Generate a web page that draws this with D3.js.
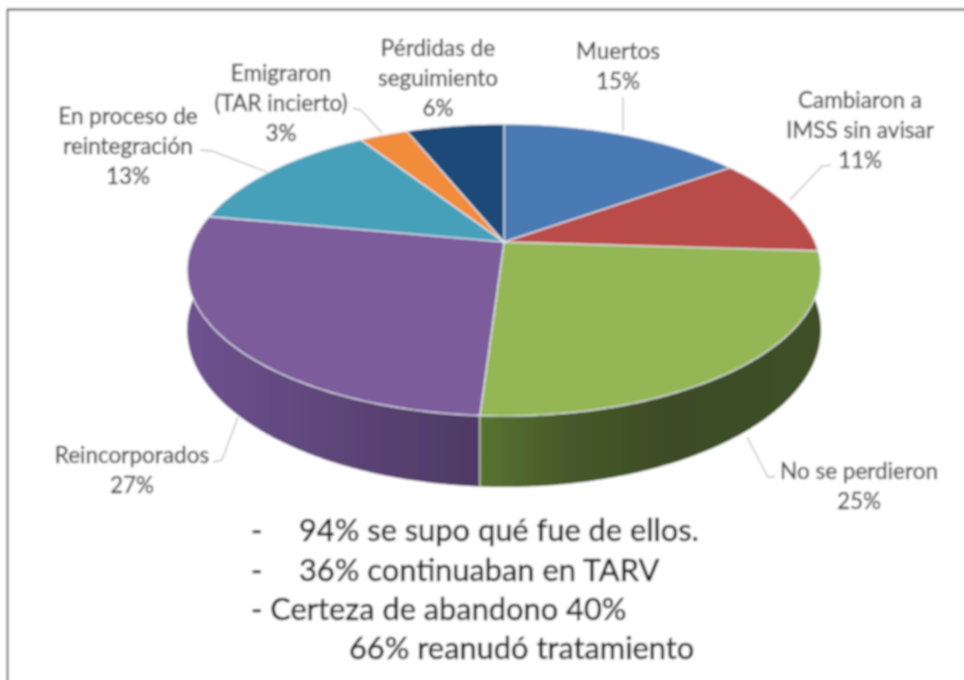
<!DOCTYPE html>
<html>
<head>
<meta charset="utf-8">
<script src="https://d3js.org/d3.v7.min.js"></script>
<style>
html, body { margin: 0; padding: 0; background: #fff; }
svg { display: block; }
text { font-family: Lato, "Open Sans", sans-serif; }
</style>
</head>
<body>
<script>
// datos
var categories = ["Muertos", "Cambiaron a IMSS sin avisar", "No se perdieron", "Reincorporados",
    "En proceso de reintegración", "Emigraron (TAR incierto)", "Pérdidas de seguimiento"];
var values = [15, 11, 25, 27, 13, 3, 6];
var labelLines = [
    ["Muertos"],
    ["Cambiaron a", "IMSS sin avisar"],
    ["No se perdieron"],
    ["Reincorporados"],
    ["En proceso de", "reintegración"],
    ["Emigraron", "(TAR incierto)"],
    ["Pérdidas de", "seguimiento"]
];
var notes = ["-", "94% se supo qué fue de ellos.", "-", "36% continuaban en TARV",
    "- Certeza de abandono 40%", "66% reanudó tratamiento"];

var topColors = ["#4a7ab4", "#b94c48", "#95b655", "#7b5b9b", "#47a0ba", "#f08c3a", "#1d4a78"];

var w = 964, h = 680;

// layout
var cx = 504, cy = 242;   // vertice del pie
var persp = 0.192;        // perspectiva
var radX = 311, radY = 140.6, depth = 57.4;

var labelPos = [
    {x: 618, y: 51},
    {x: 860, y: 100},
    {x: 859, y: 471},
    {x: 132, y: 455},
    {x: 128, y: 116},
    {x: 281, y: 73},
    {x: 438, y: 48}
];
var labelGap = 30;

var leaders = [
    [[623, 97], [623, 131]],
    [[831, 165], [822, 166], [790, 200]],
    [[775, 477], [768, 477], [747, 437]],
    [[213, 462], [222, 460], [238, 417]],
    [[200, 150], [212, 151], [267, 172]],
    [[353, 108], [361, 110], [382, 133]]
];

var noteStyle = [
    {x: 251, y: 530}, {x: 299, y: 530}, {x: 251, y: 570}, {x: 299, y: 570},
    {x: 251, y: 609}, {x: 349, y: 648}
];

var svg = d3.select("body").append("svg").attr("width", w).attr("height", h);
var defs = svg.append("defs");

defs.append("filter").attr("id", "soft")
    .attr("x", 0).attr("y", 0).attr("width", 1).attr("height", 1)
    .append("feGaussianBlur").attr("stdDeviation", 0.85);

function wallGrad(id, x1, x2, stops) {
    var g = defs.append("linearGradient").attr("id", id)
        .attr("gradientUnits", "userSpaceOnUse")
        .attr("x1", x1).attr("x2", x2).attr("y1", 0).attr("y2", 0);
    stops.forEach(function(s) {
        g.append("stop").attr("offset", s[0]).attr("stop-color", s[1]);
    });
    return "url(#" + id + ")";
}
var wallGreen = wallGrad("wg", 480, 821, [[0, "#587330"], [0.25, "#47592a"], [0.55, "#3d4c25"], [1, "#3f5025"]]);
var wallPurple = wallGrad("wp", 187, 480, [[0, "#6e5290"], [0.5, "#5d4579"], [1, "#4d3a64"]]);

var g = svg.append("g").attr("filter", "url(#soft)");

g.append("rect").attr("width", w).attr("height", h).attr("fill", "#fff");

// marco
g.append("path").attr("d", "M7.5," + (h + 5) + "V9.5H" + (w + 5)).attr("fill", "none")
    .attr("stroke", "#555").attr("stroke-width", 1.8);

// proyeccion del disco: angulo (0 arriba, horario) a pantalla
function project(a, drop) {
    var u = Math.sin(a), v = -Math.cos(a), s = 1 / (1 - persp * v);
    return [cx + radX * u * s, cy + radY * v * s + (drop || 0) * s];
}
var line = d3.line();

function rim(a0, a1, drop) {
    var n = Math.max(2, Math.ceil((a1 - a0) / 0.01));
    return d3.range(n + 1).map(function(i) {
        return project(a0 + (a1 - a0) * i / n, drop);
    });
}

var arcs = d3.pie().sort(null)(values);

// pared lateral
var wallSlices = [
    {a0: Math.PI * 0.42, a1: arcs[2].endAngle, fill: wallGreen},
    {a0: arcs[3].startAngle, a1: Math.PI * 1.58, fill: wallPurple}
];
g.selectAll("path.wall").data(wallSlices).enter().append("path")
    .attr("class", "wall")
    .attr("fill", function(d) { return d.fill; })
    .attr("d", function(d) {
        return line(rim(d.a0, d.a1, 0).concat(rim(d.a0, d.a1, depth).reverse())) + "Z";
    });

// separacion verde / morado en la pared
g.append("path").attr("fill", "none").attr("stroke", "#d8dfc8").attr("stroke-width", 1.2)
    .attr("d", line([project(arcs[2].endAngle, 0), project(arcs[2].endAngle, depth)]));

// cara superior
g.selectAll("path.slice").data(arcs).enter().append("path")
    .attr("class", "slice")
    .attr("fill", function(d, i) { return topColors[i]; })
    .attr("stroke", "#e6ebf2").attr("stroke-width", 1.2).attr("stroke-linejoin", "round")
    .attr("d", function(d) {
        return line([[cx, cy]].concat(rim(d.startAngle, d.endAngle, 0))) + "Z";
    });

// lineas guia
g.selectAll("path.leader").data(leaders).enter().append("path")
    .attr("class", "leader").attr("fill", "none")
    .attr("stroke", "#bdbdbd").attr("stroke-width", 1.3)
    .attr("d", function(d) { return line(d); });

// etiquetas
categories.forEach(function(c, i) {
    var t = g.append("text").attr("text-anchor", "middle")
        .attr("fill", "#4a4a4a").attr("stroke", "#4a4a4a").attr("stroke-width", 0.35)
        .attr("font-size", 22.5);
    labelLines[i].concat([values[i] + "%"]).forEach(function(s, j) {
        t.append("tspan").attr("x", labelPos[i].x)
            .attr("y", labelPos[i].y + j * labelGap)
            .attr("dy", "0.35em").text(s);
    });
});

// notas de abajo
g.selectAll("text.note").data(notes).enter().append("text")
    .attr("class", "note")
    .attr("x", function(d, i) { return noteStyle[i].x; })
    .attr("y", function(d, i) { return noteStyle[i].y; })
    .attr("dy", "0.35em")
    .attr("fill", "#1f1f1f").attr("stroke", "#1f1f1f").attr("stroke-width", 0.5)
    .attr("font-size", 30.8)
    .text(function(d) { return d; });
</script>
</body>
</html>
